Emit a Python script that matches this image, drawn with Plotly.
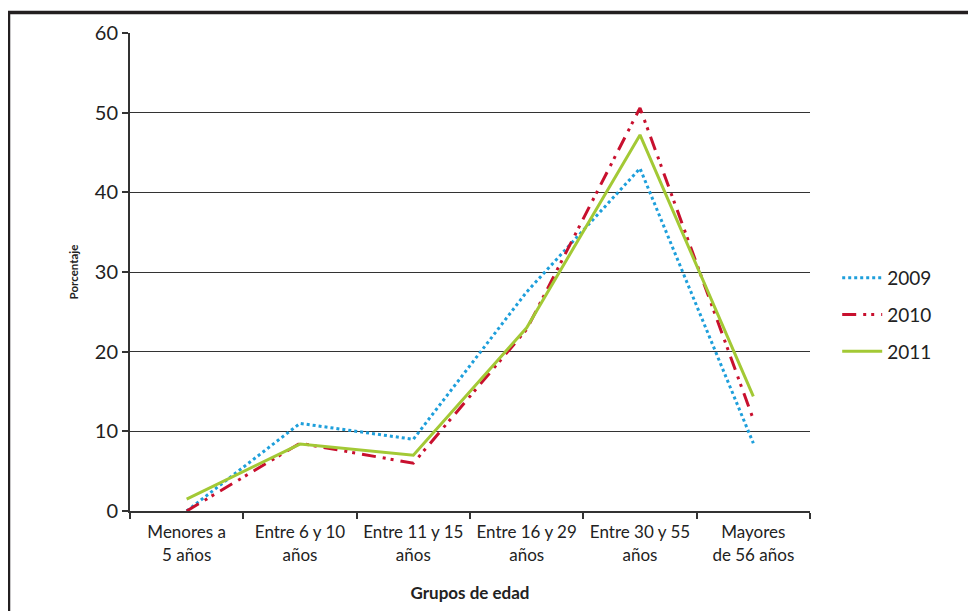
import plotly.graph_objects as go

categories = ["Menores a<br>5 años", "Entre 6 y 10<br>años", "Entre 11 y 15<br>años",
              "Entre 16 y 29<br>años", "Entre 30 y 55<br>años", "Mayores<br>de 56 años"]
y2009 = [0, 11.0, 9.0, 27.5, 43.0, 8.5]
y2010 = [0, 8.5, 6.0, 22.8, 50.6, 11.5]
y2011 = [1.5, 8.4, 7.0, 23.0, 47.2, 14.4]
yticks = [0, 10, 20, 30, 40, 50, 60]

FONT = "Lato, 'Open Sans', sans-serif"

fig = go.Figure()
fig.add_trace(go.Scatter(x=categories, y=y2009, name="2009", mode="lines", legendgroup="a",
                         line=dict(color="#1E9FDB", width=3, dash="dot")))
fig.add_trace(go.Scatter(x=categories, y=y2010, name="2010", mode="lines", legendgroup="b",
                         line=dict(color="#C8102E", width=3, dash="14px,7px,3px,5px,3px,7px")))
fig.add_trace(go.Scatter(x=categories, y=y2011, name="2011", mode="lines", legendgroup="c",
                         line=dict(color="#A3C935", width=3)))

# page has an 8px body margin; plot area spans page x 130-810, y 33-511
fig.update_layout(
    width=976, height=611,
    margin=dict(l=122, r=174, t=25, b=108),
    paper_bgcolor="white", plot_bgcolor="white",
    font=dict(family=FONT, color="#222222"),
    showlegend=True,
    legend=dict(x=1.04, y=0.41, xanchor="left", yanchor="middle",
                font=dict(size=19, color="#222222"), tracegroupgap=9,
                itemwidth=40, bgcolor="rgba(0,0,0,0)"),
    xaxis=dict(type="category", range=[-0.5, 5.5], showgrid=False,
               showline=True, linecolor="#333333", linewidth=2,
               ticks="outside", tickson="boundaries", ticklen=6, tickwidth=2,
               tickcolor="#333333", tickfont=dict(size=17, color="#222222"),
               ticklabelstandoff=5,
               title=dict(text="<b>Grupos de edad</b>", font=dict(size=17, color="#222222"),
                          standoff=24)),
    yaxis=dict(range=[0, 60], tickvals=yticks, showgrid=True, gridcolor="#333333",
               gridwidth=1.3, zeroline=False, showline=True, linecolor="#333333",
               linewidth=2, ticks="outside", ticklen=6, tickwidth=2, tickcolor="#333333",
               tickfont=dict(size=20, color="#222222"),
               title=dict(text="<b>Porcentaje</b>", font=dict(size=11.5, color="#222222"),
                          standoff=14)),
)

fig.add_shape(type="rect", xref="paper", yref="paper",
              x0=(8.5 - 130) / 680, x1=(990 - 130) / 680,
              y0=(511 - 640) / 478, y1=(511 - 12.5) / 478,
              line=dict(color="#231F20", width=3.5), fillcolor="rgba(0,0,0,0)", layer="above")

fig.write_html("out.html")
